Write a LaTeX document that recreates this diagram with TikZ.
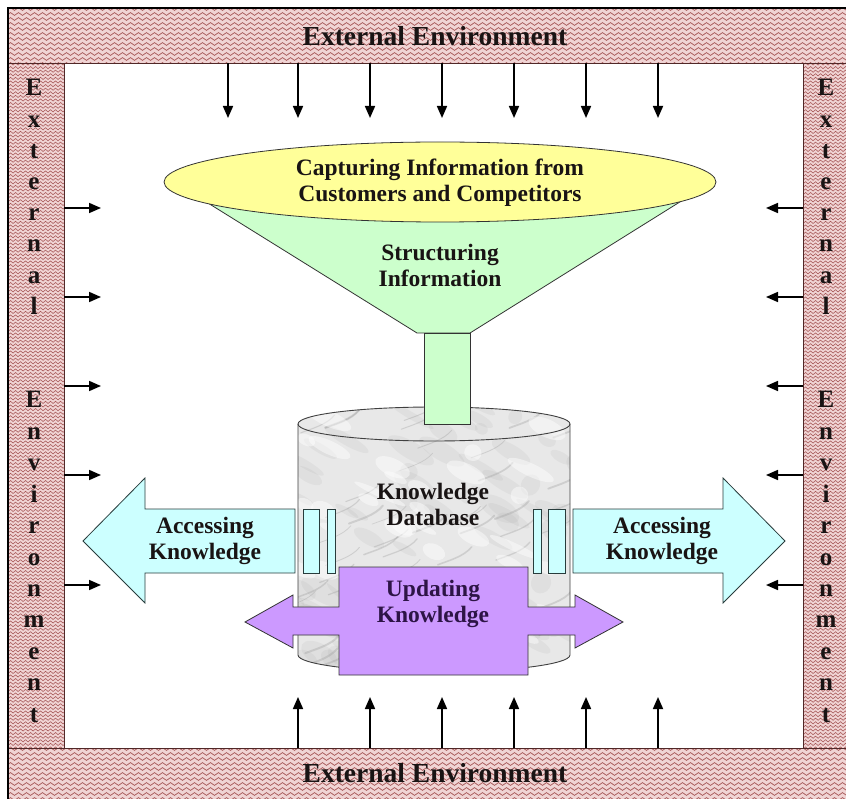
\documentclass[tikz,border=0pt]{standalone}
\usepackage{fontspec}
\setmainfont{Liberation Serif}
\usetikzlibrary{arrows.meta,decorations.pathmorphing}
\definecolor{bandbg}{RGB}{240,212,212}
\definecolor{waveC}{RGB}{165,85,85}
\definecolor{lineC}{RGB}{80,40,40}
\definecolor{yel}{RGB}{255,255,153}
\definecolor{grn}{RGB}{204,255,204}
\definecolor{cyn}{RGB}{204,255,255}
\definecolor{pur}{RGB}{204,153,255}
\definecolor{marble}{RGB}{232,232,232}
\definecolor{txt}{RGB}{25,20,20}
\definecolor{purtxt}{RGB}{45,20,70}
\definecolor{edgeC}{RGB}{40,60,60}
\tikzset{
  wavy/.style={decorate, decoration={snake, segment length=8pt, amplitude=1.4pt}, draw=waveC, line width=0.7pt},
  zigzagline/.style={decorate, decoration={snake, segment length=5pt, amplitude=1.1pt}, draw=waveC, line width=0.55pt},
  envarrow/.style={-{Triangle[length=12pt,width=10pt]}, line width=1.7pt, black},
  maintext/.style={font=\fontsize{23.5}{26}\selectfont\bfseries, text=txt, align=center, inner sep=0pt},
  bannertext/.style={font=\fontsize{27.5}{30}\selectfont\bfseries, text=txt, inner sep=0pt},
  stripletter/.style={font=\fontsize{25}{26}\selectfont\bfseries, text=txt, inner sep=0pt, anchor=base},
  shapeedge/.style={draw=black!80, line width=0.8pt},
}
\begin{document}
\begin{tikzpicture}[x=1pt,y=-1pt]
\useasboundingbox (0,0) rectangle (846,799);
\fill[white] (0,0) rectangle (846,799);

% ---------- patterned environment frame ----------
\fill[bandbg] (8,8) rectangle (846,63);
\fill[bandbg] (8,748) rectangle (846,799);
\fill[bandbg] (8,63) rectangle (64,748);
\fill[bandbg] (803,63) rectangle (846,748);
\begin{scope}
  \clip (8,8) rectangle (846,63);
  \foreach \yy in {9,14,...,64} \draw[wavy] (0,\yy) -- (850,\yy);
\end{scope}
\begin{scope}
  \clip (8,748) rectangle (846,799);
  \foreach \yy in {749,754,...,800} \draw[wavy] (0,\yy) -- (850,\yy);
\end{scope}
\begin{scope}
  \clip (8,63) rectangle (64,748);
  \foreach \yy in {64,67.6,...,750} \draw[zigzagline] (4,\yy) -- (68,\yy);
\end{scope}
\begin{scope}
  \clip (803,63) rectangle (846,748);
  \foreach \yy in {64,67.6,...,750} \draw[zigzagline] (799,\yy) -- (850,\yy);
\end{scope}
\fill[white] (64,63) rectangle (803,748);
\draw[lineC, line width=0.8pt] (8,63) -- (846,63) (8,748) -- (846,748) (64,63) -- (64,748) (803,63) -- (803,748);
\draw[black, line width=2pt] (8,803) -- (8,8) -- (850,8);

% banner texts
\node[bannertext] (topenv) at (435,36) {External Environment};
\node[bannertext] (botenv) at (435,773) {External Environment};
\foreach \ch [count=\i from 0] in {E,x,t,e,r,n,a,l}{
  \node[stripletter] (la\i) at (34,96+31.2*\i) {\ch};
  \node[stripletter] (ra\i) at (826,96+31.2*\i) {\ch};
}
\foreach \ch [count=\i from 0] in {E,n,v,i,r,o,n,m,e,n,t}{
  \node[stripletter] (lb\i) at (34,408+31.4*\i) {\ch};
  \node[stripletter] (rb\i) at (826,408+31.4*\i) {\ch};
}

% ---------- environment arrows ----------
\foreach \xx [count=\i] in {228,298,370,442,514,586,658}{
  \coordinate (ts\i) at (\xx,63); \coordinate (te\i) at (\xx,118);
  \draw[envarrow] (ts\i) -- (te\i);
}
\foreach \xx [count=\i] in {298,370,442,514,586,658}{
  \coordinate (bs\i) at (\xx,748); \coordinate (be\i) at (\xx,697);
  \draw[envarrow] (bs\i) -- (be\i);
}
\foreach \yy [count=\i] in {208,297,386,475,585}{
  \coordinate (ls\i) at (64,\yy); \coordinate (le\i) at (101,\yy);
  \draw[envarrow] (ls\i) -- (le\i);
  \coordinate (rs\i) at (803,\yy); \coordinate (re\i) at (766,\yy);
  \draw[envarrow] (rs\i) -- (re\i);
}

% ---------- knowledge database cylinder ----------
\begin{scope}
  \clip (298,424) -- (298,655) arc[start angle=180,end angle=0,x radius=136,y radius=17]
        -- (570,424) arc[start angle=0,end angle=-180,x radius=136,y radius=17] -- cycle;
  \fill[marble] (290,400) rectangle (580,680);
  \pgfmathsetseed{7}
  \foreach \k in {1,...,90}{
    \pgfmathsetmacro\mx{285+300*rnd}
    \pgfmathsetmacro\my{400+290*rnd}
    \pgfmathsetmacro\ma{6+22*rnd}
    \pgfmathsetmacro\mb{3+8*rnd}
    \fill[gray!80, opacity=0.10, rotate around={-30:(\mx,\my)}] (\mx,\my) ellipse[x radius=\ma, y radius=\mb];
  }
  \foreach \k in {1,...,45}{
    \pgfmathsetmacro\mx{280+300*rnd}
    \pgfmathsetmacro\my{400+290*rnd}
    \pgfmathsetmacro\mw{0.6+1.4*rnd}
    \draw[gray!75, opacity=0.35, line width=\mw pt, line cap=round]
      (\mx,\my) .. controls +(10,-4) and +(-8,10) .. +(34,-18);
  }
  \foreach \k in {1,...,35}{
    \pgfmathsetmacro\mx{285+300*rnd}
    \pgfmathsetmacro\my{400+290*rnd}
    \pgfmathsetmacro\ma{8+20*rnd}
    \pgfmathsetmacro\mb{3+6*rnd}
    \fill[white, opacity=0.45, rotate around={-25:(\mx,\my)}] (\mx,\my) ellipse[x radius=\ma, y radius=\mb];
  }
\end{scope}
\draw[black!75, line width=0.9pt] (298,424) -- (298,655) arc[start angle=180,end angle=0,x radius=136,y radius=17] -- (570,424);
\draw[black!75, line width=0.9pt] (434,424) ellipse[x radius=136, y radius=17];
\node[maintext] (kdb) at (433,504) {Knowledge\\Database};

% ---------- funnel ----------
\draw[shapeedge, fill=grn] (179,185) -- (417,333) -- (470,333) -- (707,185) -- cycle;
\draw[shapeedge, fill=grn] (424,333) rectangle (470,424);
\draw[shapeedge, fill=yel] (440,182) ellipse[x radius=276, y radius=40];
\node[maintext] (capt) at (440,183) {Capturing Information from\\Customers and Competitors};
\node[maintext] (struct) at (440,265) {Structuring\\Information};

% ---------- accessing knowledge arrows ----------
\draw[draw=edgeC, line width=0.8pt, fill=cyn] (83,541) -- (145,478) -- (145,509) -- (295,509) -- (295,573) -- (145,573) -- (145,603) -- cycle;
\draw[draw=edgeC, line width=0.8pt, fill=cyn] (303,509) rectangle (319,573);
\draw[draw=edgeC, line width=0.8pt, fill=cyn] (327,509) rectangle (335,573);
\draw[draw=edgeC, line width=0.8pt, fill=cyn] (785,541) -- (723,478) -- (723,509) -- (573,509) -- (573,573) -- (723,573) -- (723,603) -- cycle;
\draw[draw=edgeC, line width=0.8pt, fill=cyn] (533,509) rectangle (541,573);
\draw[draw=edgeC, line width=0.8pt, fill=cyn] (548,509) rectangle (565,573);
\node[maintext] (accl) at (205,541) {Accessing\\Knowledge};
\node[maintext] (accr) at (662,541) {Accessing\\Knowledge};

% ---------- updating knowledge double arrow ----------
\draw[draw=black!80, line width=0.8pt, fill=pur]
  (245,622) -- (293,595) -- (293,607) -- (339,607) -- (339,567) -- (528,567) -- (528,607)
  -- (575,607) -- (575,595) -- (623,622) -- (575,648) -- (575,635) -- (528,635) -- (528,675)
  -- (339,675) -- (339,635) -- (293,635) -- (293,648) -- cycle;
\node[maintext, text=purtxt] (upd) at (433,604) {Updating\\Knowledge};
\end{tikzpicture}
\end{document}
